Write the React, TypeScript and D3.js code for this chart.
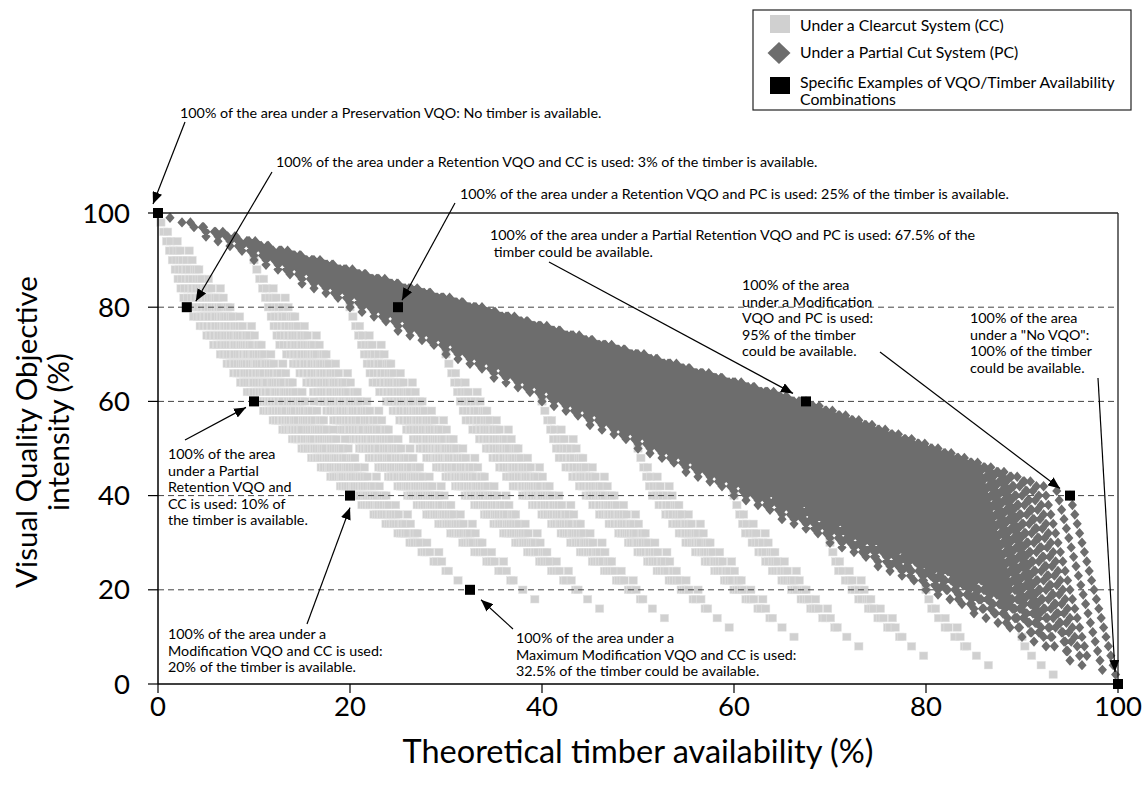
import React from "react";
import * as d3 from "d3";

// ---- Data ----
const VQO_CLASSES = ["Preservation", "Retention", "Partial Retention", "Modification", "Maximum Modification", "No VQO"];
const VQO_INTENSITY = [100, 80, 60, 40, 20, 0];
// timber availability (%) of each VQO class under each system (null = system not applied)
const CC_TIMBER: (number | null)[] = [0, 3, 10, 20, 32.5, 100];
const PC_TIMBER: (number | null)[] = [0, 25, 67.5, 95, null, 100];
const CC_AREA_STEPS = 10; // area shares in 10% steps
const PC_AREA_STEPS = 20; // area shares in 5% steps

const EXAMPLES: [number, number][] = [
  [0, 100], [3, 80], [25, 80], [10, 60], [67.5, 60], [20, 40], [95, 40], [32.5, 20], [100, 0],
];

const X_TICKS = [0, 20, 40, 60, 80, 100];
const Y_TICKS = [0, 20, 40, 60, 80, 100];
const GRID_LINES = [20, 40, 60, 80];

const LEGEND_LABELS = [
  ["Under a Clearcut System (CC)"],
  ["Under a Partial Cut System (PC)"],
  ["Specific Examples of VQO/Timber Availability", "Combinations"],
];

const ANNOTATIONS = [
  { lines: ["100% of the area under a Preservation VQO: No timber is available."], ex: 0 },
  { lines: ["100% of the area under a Retention VQO and CC is used: 3% of the timber is available."], ex: 1 },
  { lines: ["100% of the area under a Retention VQO and PC is used: 25% of the timber is available."], ex: 2 },
  { lines: ["100% of the area under a Partial Retention VQO and PC is used: 67.5% of the", " timber could be available."], ex: 4 },
  { lines: ["100% of the area", "under a Modification", "VQO and PC is used:", "95% of the timber", "could be available."], ex: 6 },
  { lines: ["100% of the area", "under a \"No VQO\":", "100% of the timber", "could be available."], ex: 8 },
  { lines: ["100% of the area", "under a Partial", "Retention VQO and", "CC is used: 10% of", "the timber is available."], ex: 3 },
  { lines: ["100% of the area under a", "Modification VQO and CC is used:", "20% of the timber is available."], ex: 5 },
  { lines: ["100% of the area under a", "Maximum Modification VQO and CC is used:", "32.5% of the timber could be available."], ex: 7 },
];

// layout of annotation text blocks and arrow starts / tip offsets (pixels)
const ANN_LAYOUT = [
  { x: 180, y: 113, from: [185, 122], tip: [-5, -9] },
  { x: 276, y: 162, from: [272, 172], tip: [9, -6] },
  { x: 460, y: 194, from: [455, 203], tip: [4, -7] },
  { x: 490, y: 235, from: [549, 262], tip: [-13, -8] },
  { x: 742, y: 285, from: [880, 352], tip: [-10, -7] },
  { x: 970, y: 318, from: [1098, 378], tip: [-3, -12] },
  { x: 168, y: 454, from: [185, 440], tip: [-8, 6] },
  { x: 168, y: 634, from: [307, 624], tip: [0, 12] },
  { x: 516, y: 638, from: [513, 629], tip: [11, 10] },
];

function compositions(n: number, k: number): number[][] {
  const out: number[][] = [];
  const rec = (prefix: number[], remaining: number, slots: number) => {
    if (slots === 1) { out.push([...prefix, remaining]); return; }
    for (let i = 0; i <= remaining; i++) rec([...prefix, i], remaining - i, slots - 1);
  };
  rec([], n, k);
  return out;
}

function combine(timber: (number | null)[], steps: number): { t: number; v: number }[] {
  const idx = timber.map((t, i) => (t === null ? -1 : i)).filter((i) => i >= 0);
  const seen = new Set<string>();
  const pts: { t: number; v: number }[] = [];
  for (const c of compositions(steps, idx.length)) {
    const t = d3.sum(c, (w, j) => (w / steps) * (timber[idx[j]] as number));
    const v = d3.sum(c, (w, j) => (w / steps) * VQO_INTENSITY[idx[j]]);
    const key = t.toFixed(3) + "|" + v.toFixed(3);
    if (!seen.has(key)) { seen.add(key); pts.push({ t, v }); }
  }
  return pts;
}

const FONT = "Lato, 'Open Sans', sans-serif";

export default function App() {
  const W = 1143, H = 797;
  const x = d3.scaleLinear().domain([0, 100]).range([158, 1118]);
  const y = d3.scaleLinear().domain([0, 100]).range([684, 213]);
  const cc = combine(CC_TIMBER, CC_AREA_STEPS);
  const pc = combine(PC_TIMBER, PC_AREA_STEPS);
  const diamond = (cx: number, cy: number, hw: number, hh: number) =>
    `M${cx.toFixed(2)},${(cy - hh).toFixed(2)}l${hw},${hh}l${-hw},${hh}l${-hw},${-hh}Z`;
  const pcPath = pc.map((p) => diamond(x(p.t), y(p.v), 4.6, 5.2)).join("");

  return (
    <div style={{ position: "absolute", left: 0, top: 0 }}>
      <svg width={W} height={H} style={{ display: "block", background: "#fff" }} fontFamily={FONT}>
        <defs>
          <marker id="arr" viewBox="0 0 12 10" refX="12" refY="5" markerWidth="12" markerHeight="10"
            markerUnits="userSpaceOnUse" orient="auto">
            <path d="M0,0L12,5L0,10Z" fill="#000" />
          </marker>
        </defs>

        {/* CC squares */}
        <g fill="#d0d0d0" stroke="#e4e4e4" strokeWidth={0.5}>
          {cc.map((p, i) => (
            <rect key={i} x={x(p.t) - 4.2} y={y(p.v) - 3.8} width={8.4} height={7.6} />
          ))}
        </g>

        {/* grid */}
        <g stroke="#444" strokeWidth={1} strokeDasharray="6,4">
          {GRID_LINES.map((g) => (
            <line key={g} x1={x(0)} x2={x(100)} y1={y(g)} y2={y(g)} />
          ))}
        </g>

        {/* PC diamonds */}
        <path d={pcPath} fill="#6d6d6d" />

        {/* frame and axes */}
        <line x1={x(0)} x2={x(100)} y1={y(100)} y2={y(100)} stroke="#222" strokeWidth={1.3} />
        <line x1={x(100)} x2={x(100)} y1={y(100)} y2={y(0)} stroke="#222" strokeWidth={1.3} />
        <line x1={x(0)} x2={x(100)} y1={y(0)} y2={y(0)} stroke="#000" strokeWidth={1.5} />
        <line x1={x(0)} x2={x(0)} y1={y(100)} y2={y(0)} stroke="#000" strokeWidth={1.5} />

        {/* example squares */}
        <g fill="#000">
          {EXAMPLES.map(([t, v], i) => (
            <rect key={i} x={x(t) - 5} y={y(v) - 5} width={10} height={10} />
          ))}
        </g>

        {/* ticks */}
        {Y_TICKS.map((t) => (
          <g key={"y" + t}>
            <line x1={x(0) - 10} x2={x(0)} y1={y(t)} y2={y(t)} stroke="#000" strokeWidth={1.2} />
            <text x={130} y={y(t)} dy="0.35em" textAnchor="end" fontSize={27.5}>{t}</text>
          </g>
        ))}
        {X_TICKS.map((t) => (
          <g key={"x" + t}>
            <line x1={x(t)} x2={x(t)} y1={y(0)} y2={y(0) + 9} stroke="#000" strokeWidth={1.2} />
            <text x={x(t)} y={706} dy="0.35em" textAnchor="middle" fontSize={27.5}>{t}</text>
          </g>
        ))}

        {/* axis titles */}
        <text x={638} y={752} dy="0.35em" textAnchor="middle" fontSize={32.5}>Theoretical timber availability (%)</text>
        <g transform="translate(27,432) rotate(-90)">
          <text x={0} y={0} dy="0.35em" textAnchor="middle" fontSize={29.5}>Visual Quality Objective</text>
          <text x={0} y={32} dy="0.35em" textAnchor="middle" fontSize={29.5}>intensity (%)</text>
        </g>

        {/* annotations */}
        {ANNOTATIONS.map((a, i) => {
          const L = ANN_LAYOUT[i];
          const [et, ev] = EXAMPLES[a.ex];
          return (
            <g key={"a" + i}>
              {a.lines.map((ln, j) => (
                <text key={j} x={L.x} y={L.y + j * 16.5} dy="0.35em" fontSize={14.3} style={{ whiteSpace: "pre" }}>{ln}</text>
              ))}
              <line x1={L.from[0]} y1={L.from[1]} x2={x(et) + L.tip[0]} y2={y(ev) + L.tip[1]}
                stroke="#000" strokeWidth={1.2} markerEnd="url(#arr)" />
            </g>
          );
        })}

        {/* legend */}
        <g>
          <rect x={753} y={10} width={378} height={100} fill="#fff" stroke="#222" strokeWidth={1.2} />
          <rect x={770} y={15} width={20} height={18} fill="#d0d0d0" />
          <path d={diamond(779, 53, 11.5, 11)} fill="#6d6d6d" />
          <rect x={770} y={77} width={20} height={17} fill="#000" />
          <text x={800} y={25} dy="0.35em" fontSize={15.8}>{LEGEND_LABELS[0][0]}</text>
          <text x={800} y={52} dy="0.35em" fontSize={15.8}>{LEGEND_LABELS[1][0]}</text>
          <text x={800} y={82} dy="0.35em" fontSize={15.8}>{LEGEND_LABELS[2][0]}</text>
          <text x={800} y={99} dy="0.35em" fontSize={15.8}>{LEGEND_LABELS[2][1]}</text>
        </g>
      </svg>
    </div>
  );
}
